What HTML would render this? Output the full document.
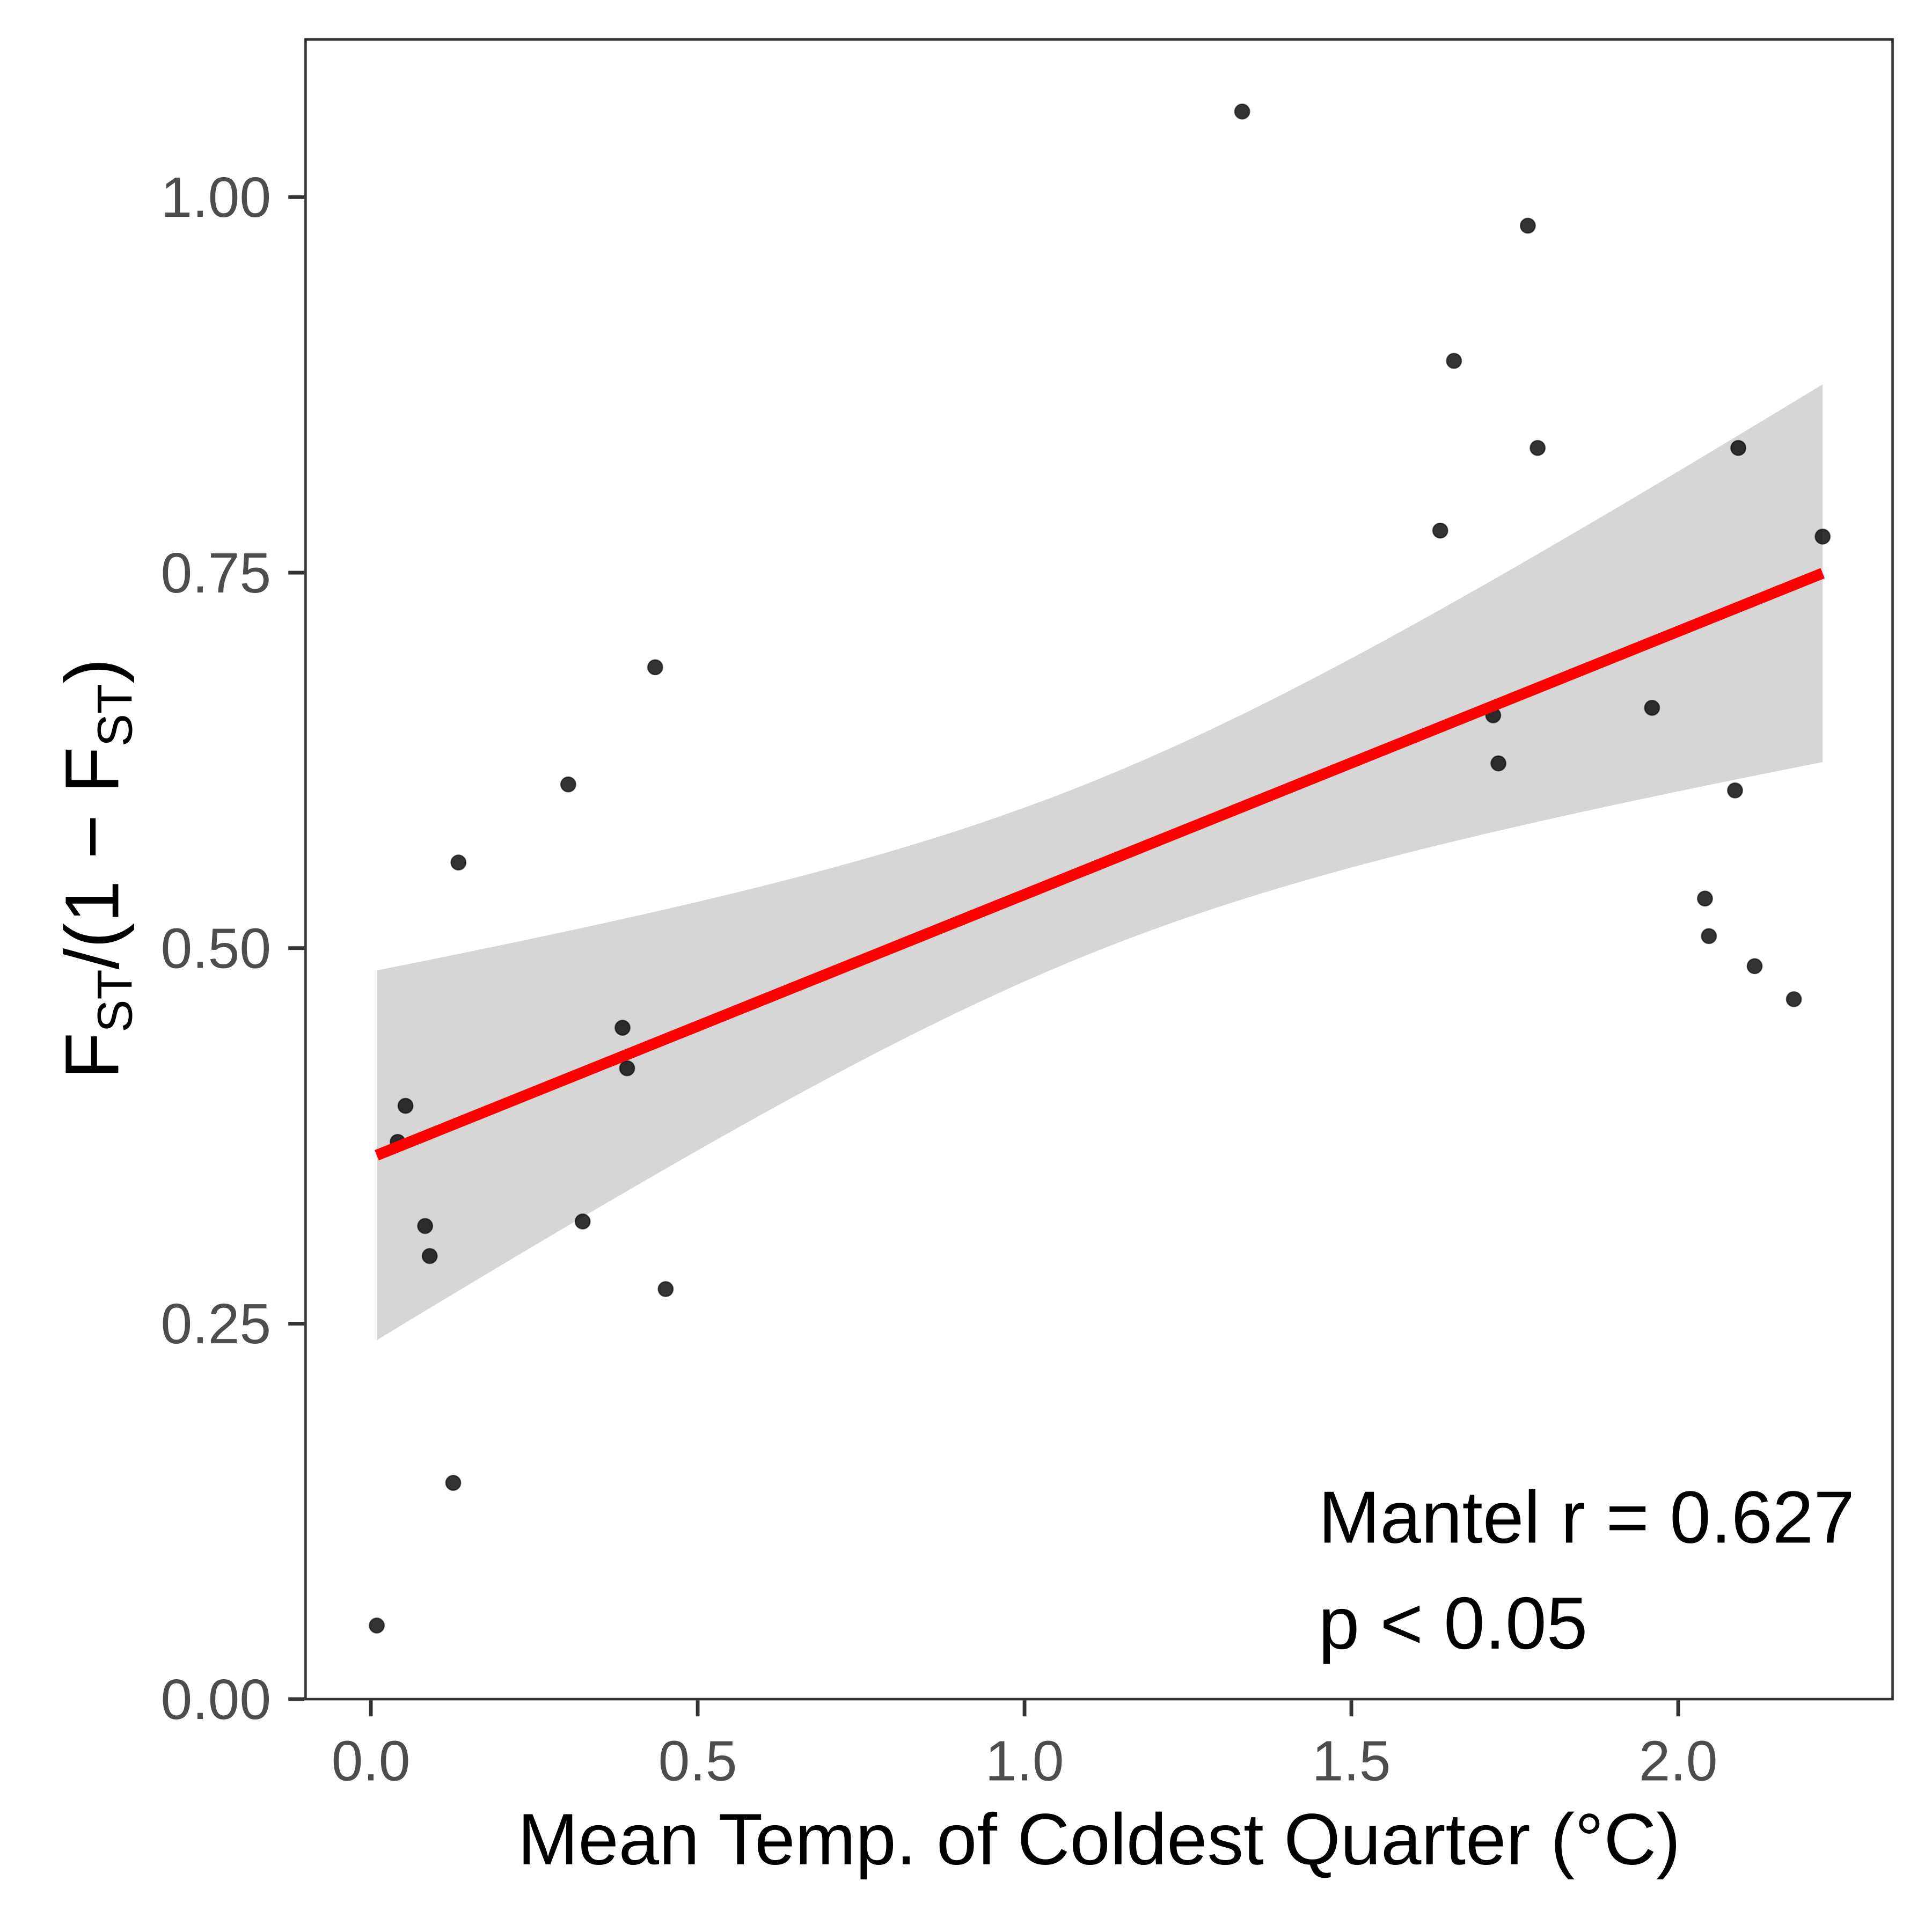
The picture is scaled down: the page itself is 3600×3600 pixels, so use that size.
<!DOCTYPE html>
<html><head><meta charset="utf-8"><style>
html,body{margin:0;padding:0;background:#fff}
svg{display:block}
text{font-family:"Liberation Sans",Arial,sans-serif}
</style></head><body>
<svg id="chart" width="3600" height="3600" viewBox="0 0 1568 1568" xmlns="http://www.w3.org/2000/svg">
<rect x="0" y="0" width="1568" height="1568" fill="#fff"/>
<g id="band"></g>
<g id="pts"></g>
<g id="fit"></g>
<rect x="248" y="32" width="1288" height="1347" fill="none" stroke="#333" stroke-width="2"/>
<g id="xticks"></g>
<g id="yticks"></g>
<text x="892" y="1513" font-size="59" text-anchor="middle" fill="#000">Mean Temp. of Coldest Quarter (°C)</text>
<text transform="translate(96,705) rotate(-90)" font-size="62" text-anchor="middle" fill="#000">F<tspan font-size="40" dy="11">ST</tspan><tspan dy="-11">/(1 − F</tspan><tspan font-size="40" dy="11">ST</tspan><tspan dy="-11">)</tspan></text>
<text x="1070" y="1252" font-size="60" fill="#000">Mantel r = 0.627</text>
<text x="1070" y="1338" font-size="60" fill="#000">p &lt; 0.05</text>
</svg>
<script>
const xVals=[1.333,1.770,1.657,1.785,2.092,1.636,2.221,0.435,1.960,1.717,1.725,0.302,2.087,0.134,2.041,2.047,2.117,2.177,0.385,0.392,0.053,0.041,0.083,0.090,0.324,0.451,0.126,0.009];
const yVals=[1.057,0.981,0.891,0.833,0.833,0.778,0.774,0.687,0.660,0.655,0.623,0.609,0.605,0.557,0.533,0.508,0.488,0.466,0.447,0.420,0.395,0.371,0.315,0.295,0.318,0.273,0.144,0.049];
const xTicks=[0,0.5,1,1.5,2];
const xTickLabels=["0.0","0.5","1.0","1.5","2.0"];
const yTicks=[0,0.25,0.5,0.75,1];
const yTickLabels=["0.00","0.25","0.50","0.75","1.00"];
// fit: intercept, slope, x range, band half-width at center, curvature, center x
const fitCoef=[0.3605,0.1752];
const fitRange=[0.009,2.221];
const bandParams=[0.057,0.0100,1.1];
const NS="http://www.w3.org/2000/svg";
const sx=v=>301+v*530.5;
const sy=v=>1379-v*1219;
function mk(tag,attrs,parent){const e=document.createElementNS(NS,tag);for(const k in attrs)e.setAttribute(k,attrs[k]);parent.appendChild(e);return e;}
const fitY=x=>fitCoef[0]+fitCoef[1]*x;
const hw=x=>Math.sqrt(bandParams[0]*bandParams[0]+bandParams[1]*(x-bandParams[2])*(x-bandParams[2]));
let up=[],lo=[];
for(let i=0;i<=60;i++){const x=fitRange[0]+(fitRange[1]-fitRange[0])*i/60;up.push(sx(x)+","+sy(fitY(x)+hw(x)));lo.unshift(sx(x)+","+sy(fitY(x)-hw(x)));}
const band=mk('polygon',{points:up.concat(lo).join(' '),fill:'#d6d6d6'},document.getElementById('band'));


const pg=document.getElementById('pts');
xVals.forEach((x,i)=>{const c=mk('circle',{cx:sx(x),cy:sy(yVals[i]),r:6,fill:'#000','fill-opacity':0.8,stroke:'#000','stroke-opacity':0.6,'stroke-width':1},pg);

});
const ln=mk('line',{x1:sx(fitRange[0]),y1:sy(fitY(fitRange[0])),x2:sx(fitRange[1]),y2:sy(fitY(fitRange[1])),stroke:'#ff0000','stroke-width':9},document.getElementById('fit'));


const xg=document.getElementById('xticks');
xTicks.forEach((v,i)=>{const t=mk('line',{x1:sx(v),x2:sx(v),y1:1380,y2:1393,stroke:'#333','stroke-width':3},xg);


const l=mk('text',{x:sx(v),y:1445,'font-size':46,'text-anchor':'middle',fill:'#4d4d4d'},xg);l.textContent=xTickLabels[i];

});
const yg=document.getElementById('yticks');
yTicks.forEach((v,i)=>{const t=mk('line',{x1:234,x2:247,y1:sy(v),y2:sy(v),stroke:'#333','stroke-width':3},yg);


const l=mk('text',{x:220,y:sy(v)+16,'font-size':46,'text-anchor':'end',fill:'#4d4d4d'},yg);l.textContent=yTickLabels[i];

});
</script>
</body></html>
